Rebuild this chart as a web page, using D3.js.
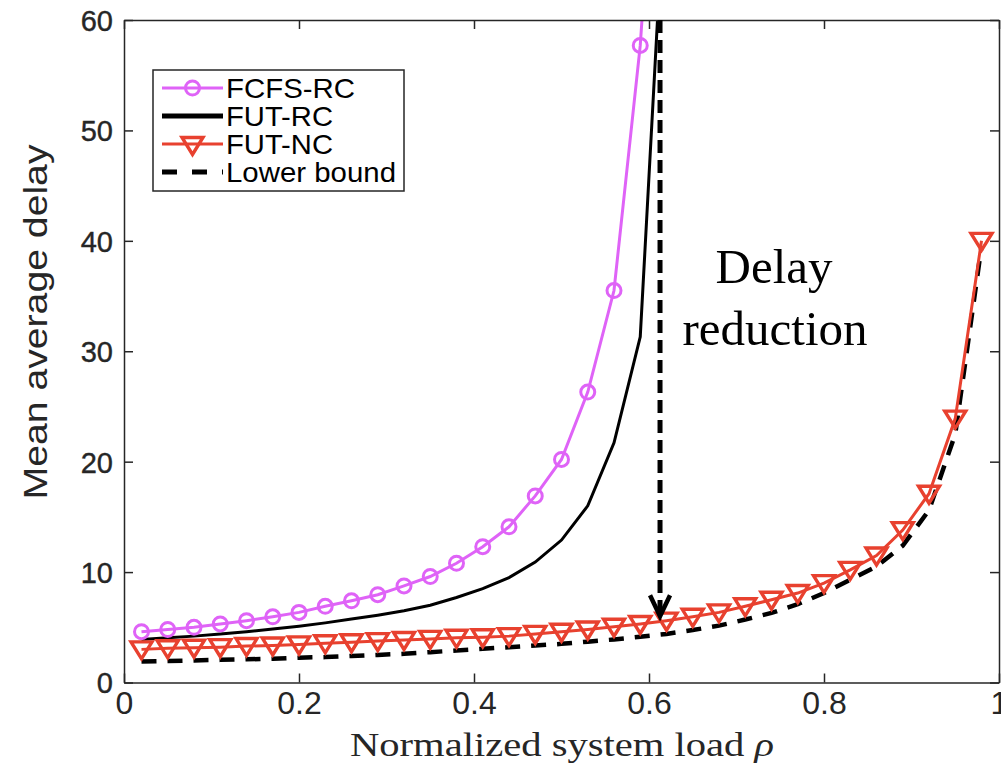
<!DOCTYPE html>
<html><head><meta charset="utf-8">
<script src="https://cdn.jsdelivr.net/npm/d3@7"></script>
<style>html,body{margin:0;padding:0;background:#fff;overflow:hidden}svg{display:block}</style>
</head><body>
<svg id="chart" width="1001" height="765"></svg>
<script>
// ---- data ----
const rho = [0.02,0.05,0.08,0.11,0.14,0.17,0.20,0.23,0.26,0.29,0.32,0.35,0.38,0.41,0.44,0.47,0.50,0.53,0.56,0.59,0.62,0.65,0.68,0.71,0.74,0.77,0.80,0.83,0.86,0.89,0.92,0.95,0.98];
const fcfsRC = [4.6,4.8,5.0,5.3,5.6,5.95,6.35,6.9,7.4,7.95,8.75,9.6,10.8,12.3,14.1,16.9,20.2,26.3,35.5,57.7,93];
const futRC = [3.9,4.05,4.2,4.4,4.6,4.85,5.1,5.4,5.75,6.1,6.5,7.0,7.7,8.5,9.5,10.9,12.9,16.0,21.7,31.3,75];
const futNC = [3.0,3.1,3.15,3.2,3.3,3.35,3.45,3.55,3.65,3.75,3.85,3.95,4.05,4.1,4.2,4.4,4.6,4.8,5.05,5.3,5.6,5.95,6.35,6.9,7.5,8.1,9.0,10.2,11.5,13.8,17.1,23.9,40.0];
const lowerBound = [1.9,1.95,2.0,2.05,2.1,2.15,2.25,2.3,2.4,2.5,2.6,2.75,2.9,3.05,3.2,3.35,3.5,3.7,3.9,4.15,4.4,4.75,5.15,5.7,6.3,7.1,8.1,9.3,10.5,12.4,15.6,22.5,39.5];
const xTicks = [0,0.2,0.4,0.6,0.8,1];
const xTickLabels = ["0","0.2","0.4","0.6","0.8","1"];
const yTicks = [0,10,20,30,40,50,60];
const yTickLabels = ["0","10","20","30","40","50","60"];
const legendNames = ["FCFS-RC","FUT-RC","FUT-NC","Lower bound"];
const arrowRho = 0.6126, arrowFrom = 60, arrowTo = 6.0;
const annotation = ["Delay","reduction"];

// ---- layout ----
const svg = d3.select("#chart");
const L = 124, R = 999, T = 20, B = 682.5;
const x = d3.scaleLinear([0,1],[L,R]);
const y = d3.scaleLinear([0,60],[B,T]);
const axisColor = "#262626";
const pink = "#DF63F7", red = "#E8412F";

svg.append("defs").append("clipPath").attr("id","clip")
  .append("rect").attr("x",L).attr("y",T).attr("width",R-L).attr("height",B-T);

svg.append("rect").attr("x",L).attr("y",T).attr("width",R-L).attr("height",B-T)
  .attr("fill","#fff");

const gPlot = svg.append("g").attr("clip-path","url(#clip)");
const line = d3.line().x(d=>x(d[0])).y(d=>y(d[1]));
const zip = arr => arr.map((v,i)=>[rho[i],v]);

// lower bound dashed
gPlot.append("path").datum(zip(lowerBound)).attr("d",line)
  .attr("fill","none").attr("stroke","#000").attr("stroke-width",4.5)
  .attr("stroke-dasharray","15,11");
// FUT-RC
gPlot.append("path").datum(zip(futRC)).attr("d",line)
  .attr("fill","none").attr("stroke","#000").attr("stroke-width",3);
// FCFS-RC
gPlot.append("path").datum(zip(fcfsRC)).attr("d",line)
  .attr("fill","none").attr("stroke",pink).attr("stroke-width",3);
gPlot.selectAll("circle.fc").data(zip(fcfsRC)).join("circle").attr("class","fc")
  .attr("cx",d=>x(d[0])).attr("cy",d=>y(d[1])).attr("r",7)
  .attr("fill","none").attr("stroke",pink).attr("stroke-width",3);
// FUT-NC
gPlot.append("path").datum(zip(futNC)).attr("d",line)
  .attr("fill","none").attr("stroke",red).attr("stroke-width",3);
const tri = (cx,cy)=>`M${cx-10.5},${cy-7.5}L${cx+10.5},${cy-7.5}L${cx},${cy+9.5}Z`;
gPlot.selectAll("path.tr").data(zip(futNC)).join("path").attr("class","tr")
  .attr("d",d=>tri(x(d[0]),y(d[1])))
  .attr("fill","none").attr("stroke",red).attr("stroke-width",3.4).attr("stroke-linejoin","miter");

// axes
const fontSans = "'Liberation Sans', Arial, Helvetica, sans-serif";
const gx = svg.append("g").attr("transform",`translate(0,${B})`)
  .call(d3.axisBottom(x).tickValues(xTicks).tickSize(-9).tickSizeOuter(0).tickPadding(9)
    .tickFormat((d,i)=>xTickLabels[i]));
gx.selectAll("text").attr("font-family","'Liberation Sans Narrow', 'Liberation Sans', Arial, sans-serif")
  .attr("font-size",32).attr("fill",axisColor);
svg.append("g").attr("transform",`translate(0,${T})`)
  .call(d3.axisTop(x).tickValues(xTicks).tickSize(-9).tickSizeOuter(0).tickFormat(""));
const gy = svg.append("g").attr("transform",`translate(${L},0)`)
  .call(d3.axisLeft(y).tickValues(yTicks).tickSize(-9).tickSizeOuter(0).tickPadding(11)
    .tickFormat((d,i)=>yTickLabels[i]));
gy.selectAll("text").attr("font-family",fontSans).attr("font-size",29).attr("fill",axisColor)
  .attr("dy","0.36em").attr("stroke",axisColor).attr("stroke-width",0.4);
svg.append("g").attr("transform",`translate(${R},0)`)
  .call(d3.axisRight(y).tickValues(yTicks).tickSize(-9).tickSizeOuter(0).tickFormat(""));
svg.selectAll(".domain, .tick line").attr("stroke",axisColor).attr("stroke-width",1.5);

// axis titles
svg.append("text").attr("x",562).attr("y",756).attr("text-anchor","middle")
  .attr("font-family","'Liberation Serif', 'Times New Roman', serif").attr("font-size",33)
  .attr("fill",axisColor).attr("textLength",424).attr("lengthAdjust","spacingAndGlyphs")
  .html('Normalized system load <tspan font-style="italic">ρ</tspan>');
svg.append("text").attr("transform","translate(47,322) rotate(-90)").attr("text-anchor","middle")
  .attr("font-family",fontSans).attr("font-size",34).attr("fill",axisColor)
  .attr("textLength",355).attr("lengthAdjust","spacingAndGlyphs")
  .text("Mean average delay");

// arrow annotation
const ax = x(arrowRho);
svg.append("line").attr("x1",ax).attr("x2",ax).attr("y1",y(arrowFrom)).attr("y2",y(arrowTo)-3)
  .attr("stroke","#000").attr("stroke-width",5).attr("stroke-dasharray","13,7");
svg.append("path").attr("d",`M${ax-10},${y(arrowTo)-21}L${ax},${y(arrowTo)}L${ax+10},${y(arrowTo)-21}`)
  .attr("fill","none").attr("stroke","#000").attr("stroke-width",4.5);
svg.append("text").attr("x",774).attr("y",283).attr("text-anchor","middle")
  .attr("font-family","'Liberation Serif', 'Times New Roman', serif").attr("font-size",49)
  .attr("fill","#000").text(annotation[0]);
svg.append("text").attr("x",775).attr("y",345).attr("text-anchor","middle")
  .attr("font-family","'Liberation Serif', 'Times New Roman', serif").attr("font-size",49)
  .attr("fill","#000").text(annotation[1]);

// legend
const lg = svg.append("g");
lg.append("rect").attr("x",153).attr("y",70).attr("width",251).attr("height",121)
  .attr("fill","#fff").attr("stroke",axisColor).attr("stroke-width",1.5);
const rows = [88,116,144,172];
const legendWidths = [129,107,107,170];
const lx1 = 162, lx2 = 223, lxm = 192.5;
lg.append("line").attr("x1",lx1).attr("x2",lx2).attr("y1",rows[0]).attr("y2",rows[0]).attr("stroke",pink).attr("stroke-width",3);
lg.append("circle").attr("cx",lxm).attr("cy",rows[0]).attr("r",7).attr("fill","none").attr("stroke",pink).attr("stroke-width",3);
lg.append("line").attr("x1",lx1).attr("x2",lx2).attr("y1",rows[1]).attr("y2",rows[1]).attr("stroke","#000").attr("stroke-width",5);
lg.append("line").attr("x1",lx1).attr("x2",lx2).attr("y1",rows[2]).attr("y2",rows[2]).attr("stroke",red).attr("stroke-width",3);
lg.append("path").attr("d",tri(lxm,rows[2]+1)).attr("fill","none").attr("stroke",red).attr("stroke-width",3.4);
lg.append("line").attr("x1",lx1).attr("x2",lx2).attr("y1",rows[3]).attr("y2",rows[3]).attr("stroke","#000").attr("stroke-width",5)
  .attr("stroke-dasharray","15,15");
lg.selectAll("text.lt").data(legendNames).join("text").attr("class","lt")
  .attr("x",226).attr("y",(d,i)=>rows[i]).attr("dy","0.36em")
  .attr("textLength",(d,i)=>legendWidths[i]).attr("lengthAdjust","spacingAndGlyphs")
  .attr("font-family",fontSans).attr("font-size",28).attr("fill","#000").text(d=>d);
</script>
</body></html>
